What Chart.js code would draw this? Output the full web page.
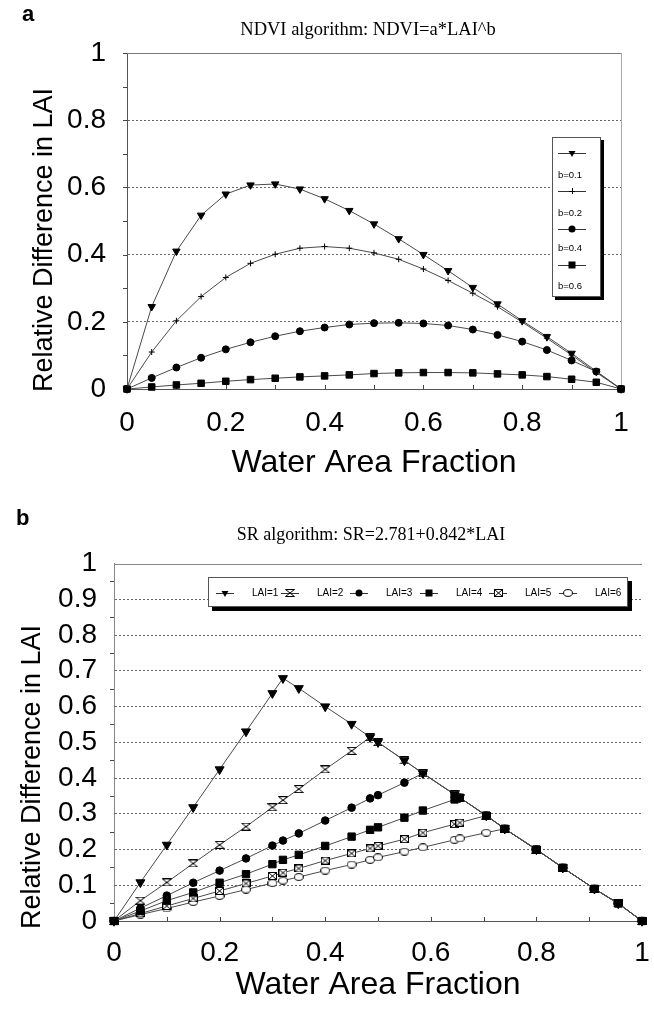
<!DOCTYPE html>
<html>
<head>
<meta charset="utf-8">
<script src="https://cdn.jsdelivr.net/npm/chart.js@4/dist/chart.umd.min.js"></script>
<style>
  html, body { margin: 0; padding: 0; background: #fff; }
  #page { position: relative; width: 654px; height: 1010px; background: #fff; overflow: hidden; }
  #page canvas { position: absolute; left: 0; }
  #chartA { top: 0; }
  #chartB { top: 490px; }
</style>
</head>
<body>
<div id="page">
  <canvas id="chartA" width="654" height="490"></canvas>
  <canvas id="chartB" width="654" height="520"></canvas>
</div>
<script>
// ---------- Panel a: NDVI algorithm ----------
const fracA = [0, 0.05, 0.1, 0.15, 0.2, 0.25, 0.3, 0.35, 0.4, 0.45, 0.5,
               0.55, 0.6, 0.65, 0.7, 0.75, 0.8, 0.85, 0.9, 0.95, 1];
const b01 = [0, 0.245, 0.410, 0.517, 0.580, 0.607, 0.610, 0.595, 0.566, 0.531, 0.491,
             0.447, 0.400, 0.352, 0.302, 0.253, 0.203, 0.156, 0.106, 0.053, 0];
const b02 = [0, 0.110, 0.203, 0.275, 0.332, 0.374, 0.401, 0.419, 0.424, 0.419, 0.405,
             0.386, 0.357, 0.323, 0.285, 0.245, 0.199, 0.151, 0.101, 0.049, 0];
const b04 = [0, 0.033, 0.064, 0.093, 0.118, 0.139, 0.157, 0.172, 0.183, 0.192, 0.196,
             0.197, 0.195, 0.189, 0.177, 0.161, 0.141, 0.116, 0.085, 0.052, 0];
const b06 = [0, 0.006, 0.012, 0.017, 0.023, 0.028, 0.032, 0.036, 0.039, 0.042, 0.046,
             0.048, 0.049, 0.049, 0.048, 0.045, 0.042, 0.037, 0.029, 0.020, 0];
const namesA = ['b=0.1', 'b=0.2', 'b=0.4', 'b=0.6'];
const yTicksA = ['0', '0.2', '0.4', '0.6', '0.8', '1'];
const xTicksA = ['0', '0.2', '0.4', '0.6', '0.8', '1'];
const yMinorA = [0, 0.1, 0.2, 0.3, 0.4, 0.5, 0.6, 0.7, 0.8, 0.9, 1];
const xMinorA = [0.1, 0.2, 0.3, 0.4, 0.5, 0.6, 0.7, 0.8, 0.9, 1];

// ---------- Panel b: SR algorithm ----------
const fracB = [0, 0.05, 0.1, 0.15, 0.2, 0.25, 0.3, 0.32, 0.35, 0.4, 0.45, 0.485,
               0.5, 0.55, 0.585, 0.645, 0.655, 0.705, 0.74, 0.8, 0.85, 0.91, 0.955, 1];
const lai1 = [0, 0.108, 0.213, 0.318, 0.424, 0.530, 0.637, 0.679, 0.651, 0.600, 0.551, 0.514,
              0.500, 0.449, 0.413, 0.354, 0.345, 0.295, 0.258, 0.200, 0.149, 0.090, 0.049, 0];
const lai2 = [0, 0.057, 0.108, 0.161, 0.213, 0.264, 0.318, 0.338, 0.369, 0.424, 0.476, 0.514,
              0.500, 0.449, 0.413, 0.354, 0.345, 0.295, 0.258, 0.200, 0.149, 0.090, 0.049, 0];
const lai3 = [0, 0.036, 0.071, 0.107, 0.141, 0.175, 0.211, 0.225, 0.245, 0.281, 0.317, 0.343,
              0.352, 0.387, 0.413, 0.354, 0.345, 0.295, 0.258, 0.200, 0.149, 0.090, 0.049, 0];
const lai4 = [0, 0.028, 0.057, 0.080, 0.107, 0.131, 0.159, 0.171, 0.185, 0.210, 0.236, 0.255,
              0.262, 0.289, 0.309, 0.340, 0.345, 0.295, 0.258, 0.200, 0.149, 0.090, 0.049, 0];
const lai5 = [0, 0.021, 0.042, 0.063, 0.084, 0.105, 0.126, 0.135, 0.147, 0.169, 0.189, 0.203,
              0.210, 0.229, 0.247, 0.271, 0.275, 0.295, 0.258, 0.200, 0.149, 0.090, 0.049, 0];
const lai6 = [0, 0.018, 0.035, 0.053, 0.070, 0.088, 0.106, 0.113, 0.123, 0.141, 0.158, 0.171,
              0.178, 0.194, 0.206, 0.227, 0.231, 0.247, 0.258, 0.200, 0.149, 0.090, 0.049, 0];
const namesB = ['LAI=1', 'LAI=2', 'LAI=3', 'LAI=4', 'LAI=5', 'LAI=6'];
const yTicksB = ['0', '0.1', '0.2', '0.3', '0.4', '0.5', '0.6', '0.7', '0.8', '0.9', '1'];
const xTicksB = ['0', '0.2', '0.4', '0.6', '0.8', '1'];
const yMinorB = [0.05, 0.15, 0.25, 0.35, 0.45, 0.55, 0.65, 0.75, 0.85, 0.95];
const xMinorB = [0.1, 0.2, 0.3, 0.4, 0.5, 0.6, 0.7, 0.8, 0.9, 1];

// ---------- shared styling ----------
const SANS = '"Liberation Sans", Arial, Helvetica, sans-serif';
const SERIF = '"Liberation Serif", "Times New Roman", serif';
const LINE = '#4a4a4a';
const INK = '#000';
const TICK_PX = 28;

// small canvases used as point glyphs
function glyph(w, h, paint) {
  const c = document.createElement('canvas');
  c.width = w; c.height = h;
  const g = c.getContext('2d');
  g.lineWidth = 1; g.strokeStyle = INK; g.fillStyle = '#fff';
  paint(g, w, h);
  return c;
}
const hourglass = glyph(10, 8, (g, w, h) => {
  g.beginPath();
  g.moveTo(0.5, 0.5); g.lineTo(w - 0.5, 0.5); g.lineTo(0.5, h - 0.5); g.lineTo(w - 0.5, h - 0.5); g.closePath();
  g.fill(); g.stroke();
});
const boxCross = glyph(9, 8, (g, w, h) => {
  g.fillRect(0.5, 0.5, w - 1, h - 1);
  g.strokeRect(0.5, 0.5, w - 1, h - 1);
  g.beginPath();
  g.moveTo(0.5, 0.5); g.lineTo(w - 0.5, h - 0.5);
  g.moveTo(w - 0.5, 0.5); g.lineTo(0.5, h - 0.5);
  g.stroke();
});
const ringOval = glyph(10, 8, (g, w, h) => {
  g.beginPath();
  g.ellipse(w / 2, h / 2, w / 2 - 0.6, h / 2 - 0.6, 0, 0, Math.PI * 2);
  g.fill(); g.stroke();
});

function pairs(xs, ys) { return xs.map((x, i) => ({ x, y: ys[i] })); }

function series(label, xs, ys, style, extra) {
  return Object.assign({
    label,
    data: pairs(xs, ys),
    borderColor: LINE,
    borderWidth: 1,
    backgroundColor: INK,
    pointBorderColor: INK,
    pointBackgroundColor: INK,
    pointBorderWidth: 1,
    pointStyle: style,
    tension: 0,
    clip: false
  }, extra || {});
}

// legend glyphs drawn by hand (same shapes as the points)
function legendMark(ctx, kind, x, y) {
  ctx.save();
  ctx.fillStyle = INK; ctx.strokeStyle = INK; ctx.lineWidth = 1;
  if (kind === 'tri') {
    const r = 4;
    ctx.beginPath();
    ctx.moveTo(x - r * 0.87, y - r * 0.5); ctx.lineTo(x + r * 0.87, y - r * 0.5); ctx.lineTo(x, y + r);
    ctx.closePath(); ctx.fill();
  } else if (kind === 'plus') {
    ctx.beginPath();
    ctx.moveTo(x - 3, y + 0.5); ctx.lineTo(x + 3, y + 0.5);
    ctx.moveTo(x + 0.5, y - 3); ctx.lineTo(x + 0.5, y + 3); ctx.stroke();
  } else if (kind === 'dot') {
    ctx.beginPath(); ctx.arc(x, y, 3.5, 0, Math.PI * 2); ctx.fill();
  } else if (kind === 'sq') {
    ctx.fillRect(x - 3.5, y - 3.5, 7, 7);
  } else if (kind instanceof HTMLCanvasElement) {
    ctx.drawImage(kind, Math.round(x - kind.width / 2), Math.round(y - kind.height / 2));
  }
  ctx.restore();
}

// frame, minor ticks, titles and legend box
const decor = {
  id: 'decor',
  beforeDatasetsDraw(chart, args, o) {
    const { ctx, chartArea: a, scales: { x, y } } = chart;
    ctx.save();
    ctx.lineWidth = 1;
    // top edge of the plot
    ctx.strokeStyle = o.topColor;
    ctx.beginPath();
    ctx.moveTo(a.left, Math.round(a.top) + 0.5); ctx.lineTo(a.right, Math.round(a.top) + 0.5);
    ctx.stroke();
    if (o.rightEdge) {
      ctx.strokeStyle = o.rightEdge;
      ctx.beginPath();
      ctx.moveTo(Math.round(a.right) + 0.5, a.top); ctx.lineTo(Math.round(a.right) + 0.5, a.bottom);
      ctx.stroke();
    }
    // small tick marks
    ctx.strokeStyle = '#444';
    ctx.beginPath();
    o.yMinor.forEach(v => {
      const py = Math.round(y.getPixelForValue(v)) + 0.5;
      ctx.moveTo(a.left - o.yTickLen, py); ctx.lineTo(a.left, py);
    });
    o.xMinor.forEach(v => {
      const px = Math.round(x.getPixelForValue(v)) + 0.5;
      ctx.moveTo(px, a.bottom); ctx.lineTo(px, a.bottom - o.xTickLen);
    });
    ctx.stroke();
    ctx.restore();
  },
  afterDraw(chart, args, o) {
    const { ctx } = chart;
    ctx.save();
    ctx.fillStyle = INK;
    ctx.textBaseline = 'middle';
    // panel letter
    ctx.font = 'bold 22px ' + SANS;
    ctx.textAlign = 'left';
    ctx.fillText(o.letter, o.letterPos[0], o.letterPos[1]);
    // heading
    ctx.font = o.headFont;
    ctx.textAlign = 'center';
    ctx.fillText(o.heading, o.headPos[0], o.headPos[1]);
    // axis titles
    ctx.font = o.xTitleFont;
    ctx.fillText(o.xTitle, o.xTitlePos[0], o.xTitlePos[1]);
    ctx.font = o.yTitleFont;
    ctx.save();
    ctx.translate(o.yTitlePos[0], o.yTitlePos[1]);
    ctx.rotate(-Math.PI / 2);
    ctx.fillText(o.yTitle, 0, 0);
    ctx.restore();
    // legend box with drop shadow
    const L = o.legend;
    ctx.fillStyle = INK;
    ctx.fillRect(L.x + L.shadow, L.y + L.shadow, L.w, L.h);
    ctx.fillStyle = '#fff';
    ctx.fillRect(L.x, L.y, L.w, L.h);
    ctx.strokeStyle = '#555';
    ctx.lineWidth = 1;
    ctx.strokeRect(L.x + 0.5, L.y + 0.5, L.w - 1, L.h - 1);
    ctx.font = L.font;
    ctx.textAlign = 'left';
    L.items.forEach(it => {
      ctx.strokeStyle = '#333';
      ctx.beginPath();
      ctx.moveTo(it.lx0, Math.round(it.ly) + 0.5); ctx.lineTo(it.lx1, Math.round(it.ly) + 0.5);
      ctx.stroke();
      legendMark(ctx, it.mark, it.mx, it.ly);
      ctx.fillStyle = INK;
      ctx.fillText(it.text, it.tx, it.ty);
    });
    ctx.restore();
  }
};

function scaleSet(opts) {
  return {
    x: {
      type: 'linear', min: 0, max: 1,
      afterFit: s => { s.height = opts.xH; s.paddingLeft = 0; s.paddingRight = 0; },
      ticks: {
        stepSize: 0.2, padding: opts.xPad, color: INK, maxRotation: 0, autoSkip: false,
        font: { family: SANS, size: TICK_PX },
        callback: (v, i) => opts.xLabels[i]
      },
      grid: { display: false, drawTicks: false },
      border: { display: true, color: '#555', width: 1 }
    },
    y: {
      type: 'linear', min: 0, max: 1,
      afterFit: s => { s.width = opts.yW; s.paddingTop = 0; s.paddingBottom = 0; },
      ticks: {
        stepSize: opts.yStep, padding: opts.yPad, color: INK, autoSkip: false,
        font: { family: SANS, size: TICK_PX },
        callback: (v, i) => opts.yLabels[i]
      },
      grid: {
        drawTicks: false,
        lineWidth: 1,
        color: c => (c.tick && (c.tick.value <= 0 || c.tick.value >= 1)) ? 'rgba(0,0,0,0)' : '#666'
      },
      border: { display: true, color: opts.yAxisColor, width: 1, dash: [2, 2] }
    }
  };
}

// ---------- chart a ----------
new Chart(document.getElementById('chartA'), {
  type: 'line',
  data: {
    datasets: [
      series(namesA[0], fracA, b01, 'triangle', { pointRadius: 4.3, rotation: 180 }),
      series(namesA[1], fracA, b02, 'cross', { pointRadius: 3, pointBorderWidth: 1 }),
      series(namesA[2], fracA, b04, 'circle', { pointRadius: 3.5 }),
      series(namesA[3], fracA, b06, 'rect', { pointRadius: 4.6 })
    ]
  },
  options: {
    responsive: false,
    animation: false,
    events: [],
    layout: { padding: { left: 0, right: 33, top: 53, bottom: 0 } },
    scales: scaleSet({
      xH: 101, yW: 127, xPad: 17, yPad: 21, yStep: 0.2,
      xLabels: xTicksA, yLabels: yTicksA, yAxisColor: '#555'
    }),
    plugins: {
      legend: { display: false },
      tooltip: { enabled: false },
      decor: {
        topColor: '#777', rightEdge: '#aaa',
        yMinor: yMinorA, xMinor: xMinorA, yTickLen: 4, xTickLen: 4,
        letter: 'a', letterPos: [22, 15],
        heading: 'NDVI algorithm: NDVI=a*LAI^b', headPos: [368, 30], headFont: '18.5px ' + SERIF,
        xTitleFont: '32px ' + SANS, yTitleFont: '27px ' + SANS,
        xTitle: 'Water Area Fraction', xTitlePos: [374, 463],
        yTitle: 'Relative Difference in LAI', yTitlePos: [45, 240],
        legend: {
          x: 552, y: 137, w: 49, h: 160, shadow: 3, font: '9.5px ' + SANS,
          items: [
            { mark: 'tri',  lx0: 558, lx1: 586, mx: 572, ly: 153, text: namesA[0], tx: 558, ty: 175 },
            { mark: 'plus', lx0: 558, lx1: 586, mx: 572, ly: 191, text: namesA[1], tx: 558, ty: 213 },
            { mark: 'dot',  lx0: 558, lx1: 586, mx: 572, ly: 229, text: namesA[2], tx: 558, ty: 248 },
            { mark: 'sq',   lx0: 558, lx1: 586, mx: 572, ly: 265, text: namesA[3], tx: 558, ty: 286 }
          ]
        }
      }
    }
  },
  plugins: [decor]
});

// ---------- chart b ----------
const legendX = [252, 317, 386, 456, 525, 595];
const legendMarks = ['tri', hourglass, 'dot', 'sq', boxCross, ringOval];
new Chart(document.getElementById('chartB'), {
  type: 'line',
  data: {
    datasets: [
      series(namesB[0], fracB, lai1, 'triangle', { pointRadius: 5.2, rotation: 180, order: 1 }),
      series(namesB[1], fracB, lai2, hourglass, { order: 2 }),
      series(namesB[2], fracB, lai3, 'circle', { pointRadius: 3.8, order: 3 }),
      series(namesB[3], fracB, lai4, 'rect', { pointRadius: 5.2, order: 0 }),
      series(namesB[4], fracB, lai5, boxCross, { order: 4 }),
      series(namesB[5], fracB, lai6, ringOval, { order: 5 })
    ]
  },
  options: {
    responsive: false,
    animation: false,
    events: [],
    layout: { padding: { left: 0, right: 12, top: 73.5, bottom: 0 } },
    scales: scaleSet({
      xH: 89, yW: 114, xPad: 15, yPad: 17, yStep: 0.1,
      xLabels: xTicksB, yLabels: yTicksB, yAxisColor: '#888'
    }),
    plugins: {
      legend: { display: false },
      tooltip: { enabled: false },
      decor: {
        topColor: '#888', rightEdge: null,
        yMinor: yMinorB, xMinor: xMinorB, yTickLen: 4, xTickLen: 4,
        letter: 'b', letterPos: [16, 29],
        heading: 'SR algorithm: SR=2.781+0.842*LAI', headPos: [371, 45], headFont: '18px ' + SERIF,
        xTitleFont: '32px ' + SANS, yTitleFont: '27px ' + SANS,
        xTitle: 'Water Area Fraction', xTitlePos: [378, 495],
        yTitle: 'Relative Difference in LAI', yTitlePos: [33, 287],
        legend: {
          x: 208, y: 87, w: 420, h: 30, shadow: 4, font: '10px ' + SANS,
          items: namesB.map((n, i) => ({
            mark: legendMarks[i], lx0: legendX[i] - 36, lx1: legendX[i] - 18, mx: legendX[i] - 27,
            ly: 103, text: n, tx: legendX[i], ty: 103
          }))
        }
      }
    }
  },
  plugins: [decor]
});
</script>
</body>
</html>
